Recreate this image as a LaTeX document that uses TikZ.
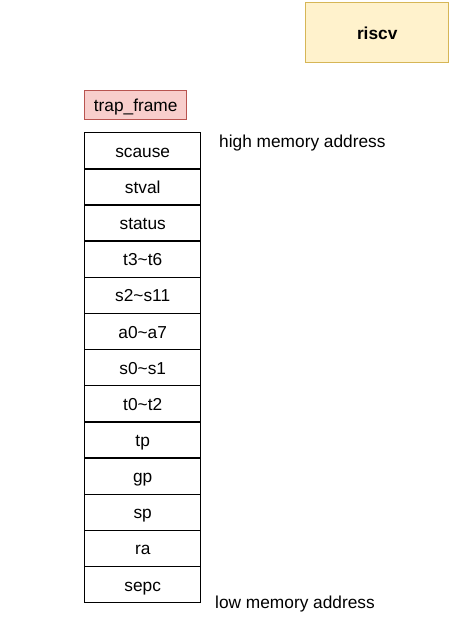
\documentclass[tikz,border=0pt]{standalone}
\usepackage{fontspec}
\setmainfont{Liberation Sans}
\definecolor{yfill}{HTML}{FFF2CC}
\definecolor{ystroke}{HTML}{D6B656}
\definecolor{rfill}{HTML}{F8CECC}
\definecolor{rstroke}{HTML}{B85450}
\begin{document}
\begin{tikzpicture}[x=1pt,y=-1pt,
  every node/.style={font=\fontsize{17.3}{20}\selectfont, inner sep=0pt, text height=15pt, text depth=2pt},
  cell/.style={draw=black, line width=1.4pt, minimum width=116pt, minimum height=36.15pt, anchor=north west, fill=white},
  lbl/.style={anchor=west}]
\useasboundingbox (0,0) rectangle (455,624);
\node[draw=ystroke, fill=yfill, line width=1.4pt, minimum width=143pt, minimum height=60pt, anchor=north west, font=\fontsize{17.3}{20}\selectfont\bfseries] (riscv) at (305,2) {riscv};
\node[draw=rstroke, fill=rfill, line width=1.4pt, minimum width=102pt, minimum height=29pt, anchor=north west] (tf) at (84,90) {trap\_frame};
\foreach \t [count=\i from 0] in {scause,stval,status,t3\textasciitilde t6,s2\textasciitilde s11,a0\textasciitilde a7,s0\textasciitilde s1,t0\textasciitilde t2,tp,gp,sp,ra,sepc}{
  \node[cell] (c\i) at (84,132+36.15*\i) {\t};
}
\node[lbl] (hi) at (219,141) {high memory address};
\node[lbl] (lo) at (215,602) {low memory address};
\end{tikzpicture}
\end{document}
